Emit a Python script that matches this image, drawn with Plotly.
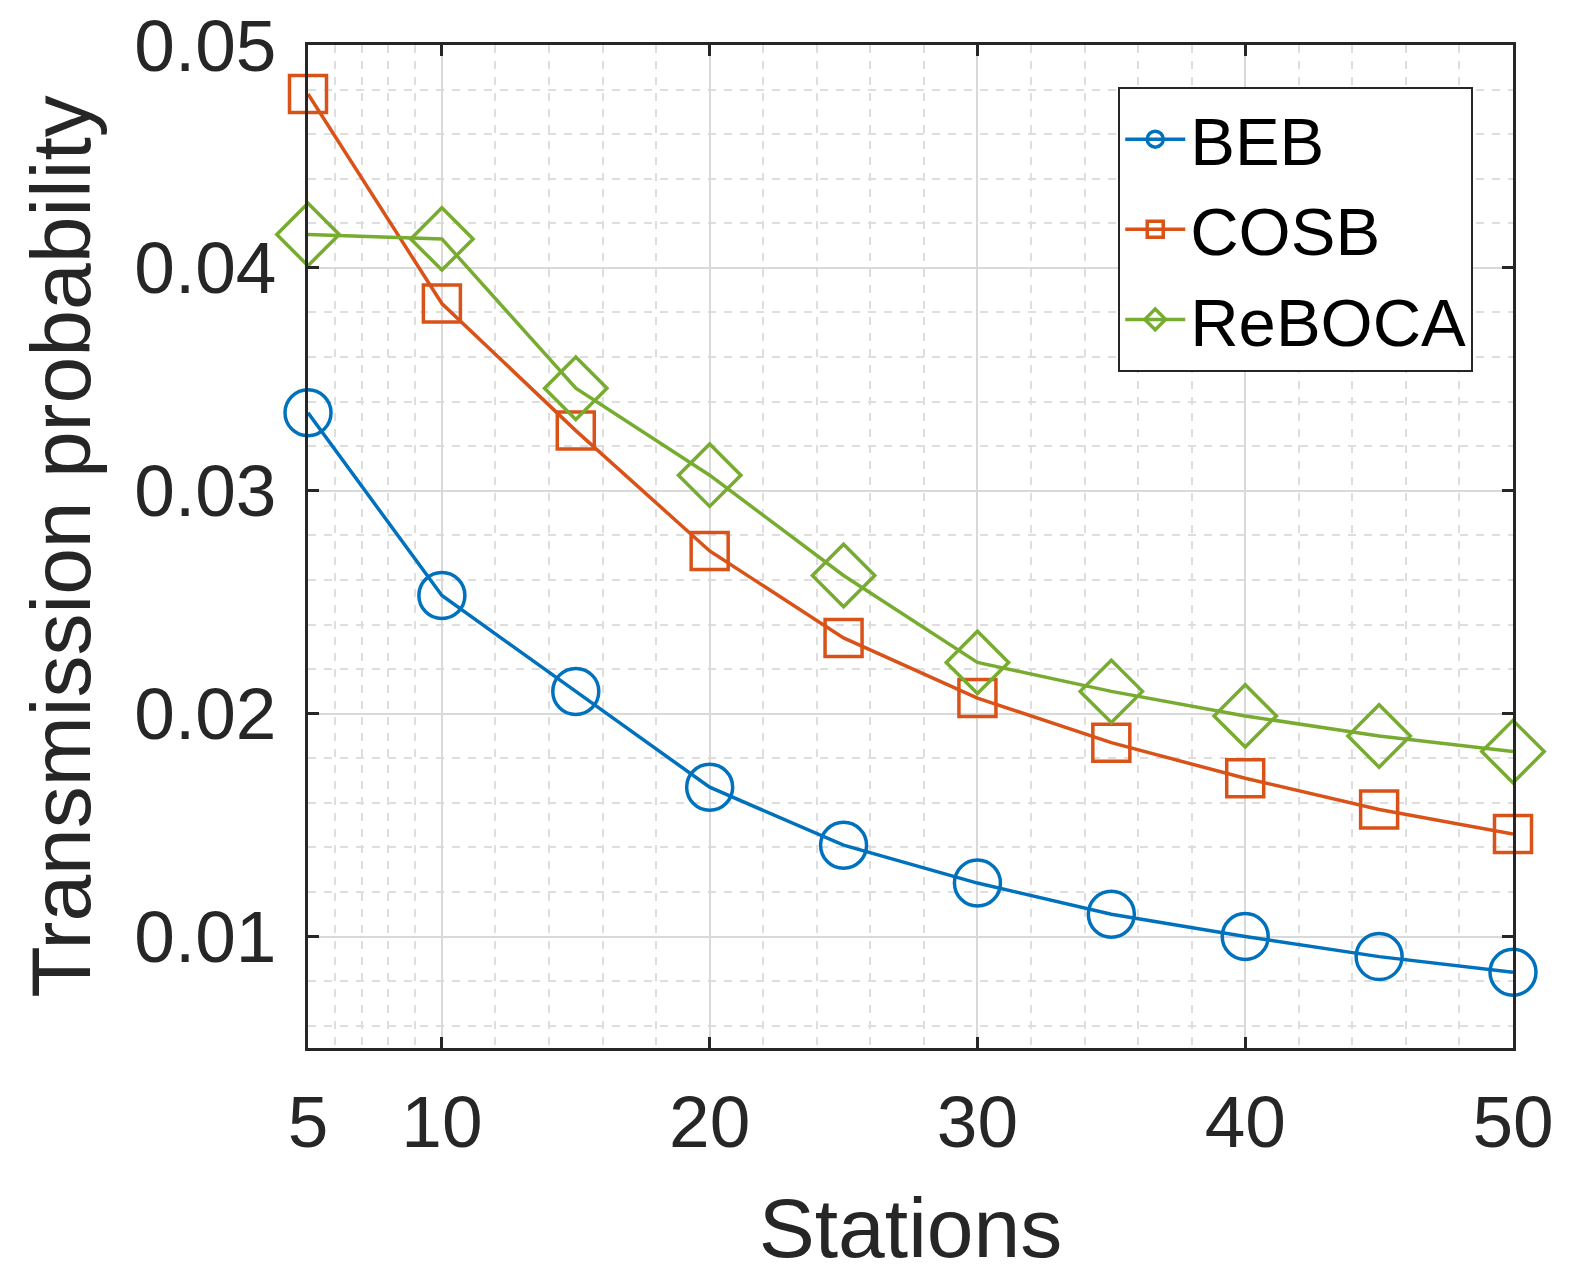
import plotly.graph_objects as go

# Data
stations = [5, 10, 15, 20, 25, 30, 35, 40, 45, 50]
beb = [0.0335, 0.0253, 0.0210, 0.0167, 0.0141, 0.0124, 0.0110, 0.0100, 0.0091, 0.0084]
cosb = [0.0478, 0.0384, 0.0327, 0.0273, 0.0234, 0.0207, 0.0187, 0.0171, 0.0157, 0.0146]
reboca = [0.0415, 0.0413, 0.0346, 0.0307, 0.0262, 0.0223, 0.0210, 0.0199, 0.0190, 0.0183]

x_ticks = [5, 10, 20, 30, 40, 50]
x_minor = [6, 7, 8, 9, 12, 14, 16, 18, 22, 24, 26, 28, 32, 34, 36, 38, 42, 44, 46, 48]
y_ticks = [0.01, 0.02, 0.03, 0.04, 0.05]
y_tick_labels = ["0.01", "0.02", "0.03", "0.04", "0.05"]
y_minor = [0.006, 0.008, 0.012, 0.014, 0.016, 0.018, 0.022, 0.024, 0.026, 0.028,
           0.032, 0.034, 0.036, 0.038, 0.042, 0.044, 0.046, 0.048]

FONT = "Liberation Sans, Arial, sans-serif"
TEXT = "#262626"

series = [
    ("BEB", beb, "#0072BD", "circle-open", 46),
    ("COSB", cosb, "#D95319", "square-open", 37),
    ("ReBOCA", reboca, "#77AC30", "diamond-open", 48),
]

fig = go.Figure()
for name, vals, color, symbol, size in series:
    fig.add_trace(go.Scatter(
        x=stations, y=vals, name=name, mode="lines+markers",
        line=dict(color=color, width=3.5),
        marker=dict(symbol=symbol, size=size, color=color, line=dict(color=color, width=3.5)),
        cliponaxis=False,
    ))

axis_common = dict(
    showline=True, linecolor=TEXT, linewidth=3, mirror="ticks",
    ticks="inside", ticklen=11, tickwidth=3, tickcolor=TEXT,
    showgrid=True, gridcolor="#d9d9d9", gridwidth=2,
    zeroline=False, automargin=False,
    ticklabeloverflow="allow",
    tickfont=dict(family=FONT, size=73, color=TEXT),
    title_font=dict(family=FONT, size=84, color=TEXT),
)

fig.update_layout(
    width=1572, height=1286,
    margin=dict(l=300, r=67, t=37, b=246),
    paper_bgcolor="white", plot_bgcolor="white",
    font=dict(family=FONT, color=TEXT),
    xaxis=dict(
        range=[5, 50], tickmode="array", tickvals=x_ticks,
        ticklabelstandoff=8,
        title=dict(text="Stations", standoff=38),
        minor=dict(tickmode="array", tickvals=x_minor, showgrid=True,
                   gridcolor="#dedede", gridwidth=2, griddash="8px,8px", ticks=""),
        **axis_common,
    ),
    yaxis=dict(
        range=[0.005, 0.05 + 1e-9], tickmode="array", tickvals=y_ticks, ticktext=y_tick_labels,
        ticklabelstandoff=14,
        title=dict(text="Transmission probability", standoff=16),
        minor=dict(tickmode="array", tickvals=y_minor, showgrid=True,
                   gridcolor="#dedede", gridwidth=2, griddash="8px,8px", ticks=""),
        **axis_common,
    ),
    legend=dict(
        x=0.967, y=0.958, xanchor="right", yanchor="top",
        bgcolor="white", bordercolor=TEXT, borderwidth=2,
        font=dict(family=FONT, size=67, color="black"),
        itemwidth=60,
    ),
    showlegend=True,
)

fig.write_html("out.html")
